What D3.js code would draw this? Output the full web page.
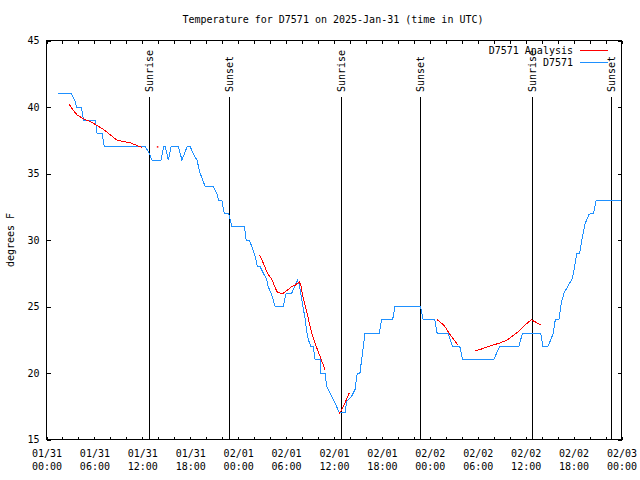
<!DOCTYPE html>
<html><head><meta charset="utf-8">
<script src="https://cdn.jsdelivr.net/npm/d3@7"></script>
<style>
body{margin:0;background:#fff}
svg{display:block}
text{font-family:"DejaVu Sans Mono","Liberation Mono",monospace;font-size:10px;fill:#000}
</style>
</head><body>
<svg id="chart" width="640" height="480"></svg>
<script>
// ---------------- data ----------------
const titleText = "Temperature for D7571 on 2025-Jan-31 (time in UTC)";
const yAxisLabel = "degrees F";
const startUTC = Date.UTC(2025, 0, 31, 0, 0);
const spanHours = 72;
const yDomain = [15, 45];
const yTickValues = [15, 20, 25, 30, 35, 40, 45];
const seriesNames = ["D7571 Analysis", "D7571"];
const seriesColors = ["#ff0000", "#1e90ff"];

// observed station series (hours since 01/31 00:00 UTC, degrees F)
const obsHours = [1.41,3.09,3.54,3.75,4.34,4.66,6.13,6.34,6.96,7.25,12.38,12.88,13.21,14.34,14.66,14.88,15.25,15.59,16.54,16.96,17.59,18.0,18.38,18.84,19.25,19.88,20.91,21.34,21.54,21.96,22.25,22.79,23.21,24.79,25.0,25.41,25.71,26.13,26.41,26.75,27.16,27.59,27.75,28.13,28.38,28.63,29.66,30.0,30.71,31.13,31.41,31.66,31.96,32.38,32.59,32.79,33.09,33.41,33.63,34.25,34.34,34.88,35.09,35.5,36.13,36.66,37.38,37.59,37.79,38.21,38.63,38.91,39.25,39.46,39.88,41.66,41.96,43.34,43.63,46.84,47.16,48.63,48.91,50.29,50.84,51.75,52.09,56.0,56.75,59.16,59.59,61.88,62.16,62.79,63.41,63.71,64.16,64.46,64.79,65.5,65.84,66.13,66.41,66.75,67.16,67.46,67.91,68.21,68.5,68.84,71.88];
const obsTemps = [41,41,40.5,40,40,39,39,38,38,37,37,36.5,36,36,37,37,36,37,37,36,37,37,36.5,36,35,34,34,33.5,33,33,32,32,31,31,30,30,29.5,28.75,28,28,27.5,27,26.5,26,25.5,25,25,26,26,26.6,27,26.6,25.5,24.1,23.1,22.5,22,22,21,21,20,20,19,18.5,17.75,17,17,17.9,18,18.25,18.75,20,20,21,23,23,24,24,25,25,24,24,23,23,22,22,21,21,22,22,23,23,22,22,22.9,24,24,25.25,26,26.75,27.1,28,29,29,30.4,31.25,31.9,32,32,33,33];

// analysis series (NaN = gap)
const anaHours = [2.79,3.41,3.84,4.66,5.5,6.34,7.16,8.0,8.84,9.66,10.5,11.34,11.96,NaN,
  13.91,NaN,
  26.66,27.16,27.59,27.79,28.21,28.5,28.88,29.25,29.66,30.09,30.71,31.13,31.66,31.84,32.16,32.59,33.0,33.41,33.84,34.25,34.88,NaN,
  36.66,36.96,37.38,37.91,NaN,
  48.91,49.46,49.88,50.29,50.71,51.13,51.54,NaN,
  53.63,54.25,55.09,55.91,56.75,57.59,58.41,59.25,60.09,60.71,61.34,61.88];
const anaTemps = [40.25,39.7,39.4,39.1,38.9,38.6,38.3,37.9,37.5,37.4,37.3,37.1,36.95,NaN,
  37.0,NaN,
  28.9,28.25,27.6,27.4,27.05,26.6,26.1,26.0,26.0,26.2,26.5,26.6,26.85,26.6,25.6,24.6,23.5,22.6,21.9,21.25,20.25,NaN,
  16.95,17.25,17.75,18.5,NaN,
  24.0,23.75,23.5,23.1,22.75,22.4,22.1,NaN,
  21.7,21.75,21.95,22.1,22.25,22.45,22.8,23.2,23.7,24.0,23.8,23.6];

const sunriseHours = [12.88, 36.92, 60.79];
const sunsetHours = [22.84, 46.79, 70.66];

// ---------------- chart ----------------
const toDate = h => new Date(startUTC + h * 3600e3);
const svg = d3.select("#chart");
const x = d3.scaleUtc().domain([toDate(0), toDate(spanHours)]).range([46.5, 621.5]);
const y = d3.scaleLinear().domain(yDomain).range([439.5, 40.5]);

// sunrise / sunset markers
const events = sunriseHours.map(h => ({h, name: "Sunrise"}))
  .concat(sunsetHours.map(h => ({h, name: "Sunset"})));
const evG = svg.append("g");
events.forEach(e => {
  const xp = Math.round(x(toDate(e.h))) + 0.5;
  evG.append("line").attr("x1", xp).attr("x2", xp).attr("y1", 97).attr("y2", 439.5)
    .attr("stroke", "#000").attr("shape-rendering", "crispEdges");
  evG.append("text").attr("transform", `translate(${xp},92) rotate(-90)`)
    .attr("dy", "0.35em").attr("text-anchor", "start").text(e.name);
});

// axes
const tickEvery2 = d3.utcHour.every(2);
const fmtDay = d3.utcFormat("%m/%d"), fmtTime = d3.utcFormat("%H:%M");
const bottom = svg.append("g").attr("transform", "translate(0,439.5)")
  .call(d3.axisBottom(x).ticks(tickEvery2).tickSizeInner(-3).tickSizeOuter(0).tickPadding(10)
    .tickFormat(d => d.getUTCHours() % 6 === 0 ? "x" : ""));
bottom.selectAll(".tick text").each(function(d) {
  const t = d3.select(this);
  if (d.getUTCHours() % 6 !== 0) { t.text(""); return; }
  t.text(null).attr("dy", null);
  t.append("tspan").attr("x", 0).attr("dy", "0.71em").text(fmtDay(d));
  t.append("tspan").attr("x", 0).attr("dy", "13").text(fmtTime(d));
});
svg.append("g").attr("transform", "translate(0,40.5)")
  .call(d3.axisTop(x).ticks(tickEvery2).tickSizeInner(-3).tickSizeOuter(0).tickFormat(""));
svg.append("g").attr("transform", "translate(46.5,0)")
  .call(d3.axisLeft(y).tickValues(yTickValues).tickSizeInner(-4).tickSizeOuter(0).tickPadding(7).tickFormat(d3.format("d")));
svg.append("g").attr("transform", "translate(621.5,0)")
  .call(d3.axisRight(y).tickValues(yTickValues).tickSizeInner(-4).tickSizeOuter(0).tickFormat(""));
svg.selectAll(".domain").remove();
svg.selectAll(".tick line").attr("stroke", "#000").attr("shape-rendering", "crispEdges");
svg.selectAll(".tick text").attr("fill", "#000")
  .style("font-family", '"DejaVu Sans Mono",monospace').style("font-size", "10px");

// border
svg.append("rect").attr("x", 46.5).attr("y", 40.5).attr("width", 575).attr("height", 399)
  .attr("fill", "none").attr("stroke", "#000").attr("shape-rendering", "crispEdges");

// series
const line = d3.line().defined(d => !isNaN(d.t)).x(d => x(toDate(d.h))).y(d => y(d.t));
const obs = obsHours.map((h, i) => ({h, t: obsTemps[i]}));
const ana = anaHours.map((h, i) => ({h, t: anaTemps[i]}));
svg.append("path").datum(obs).attr("d", line).attr("fill", "none")
  .attr("stroke", seriesColors[1]).attr("stroke-width", 1).attr("shape-rendering", "crispEdges");
svg.append("path").datum(ana).attr("d", line).attr("fill", "none")
  .attr("stroke", seriesColors[0]).attr("stroke-width", 1).attr("shape-rendering", "crispEdges");
// isolated analysis points
ana.forEach((d, i) => {
  if (isNaN(d.t)) return;
  const prev = ana[i - 1], next = ana[i + 1];
  if ((!prev || isNaN(prev.t)) && (!next || isNaN(next.t))) {
    svg.append("rect").attr("x", x(toDate(d.h)) - 0.75).attr("y", y(d.t) - 0.75)
      .attr("width", 1.5).attr("height", 1.5).attr("fill", seriesColors[0]);
  }
});

// title and y label
svg.append("text").attr("x", 333).attr("y", 23).attr("text-anchor", "middle").text(titleText);
svg.append("text").attr("transform", "translate(14,240) rotate(-90)")
  .attr("text-anchor", "middle").text(yAxisLabel);

// legend
const legendRows = [50.5, 62.5];
seriesNames.forEach((name, i) => {
  svg.append("text").attr("x", 573).attr("y", legendRows[i] + 3.5)
    .attr("text-anchor", "end").text(name);
  svg.append("line").attr("x1", 580).attr("x2", 608)
    .attr("y1", legendRows[i]).attr("y2", legendRows[i])
    .attr("stroke", seriesColors[i]).attr("shape-rendering", "crispEdges");
});
</script>
</body></html>
